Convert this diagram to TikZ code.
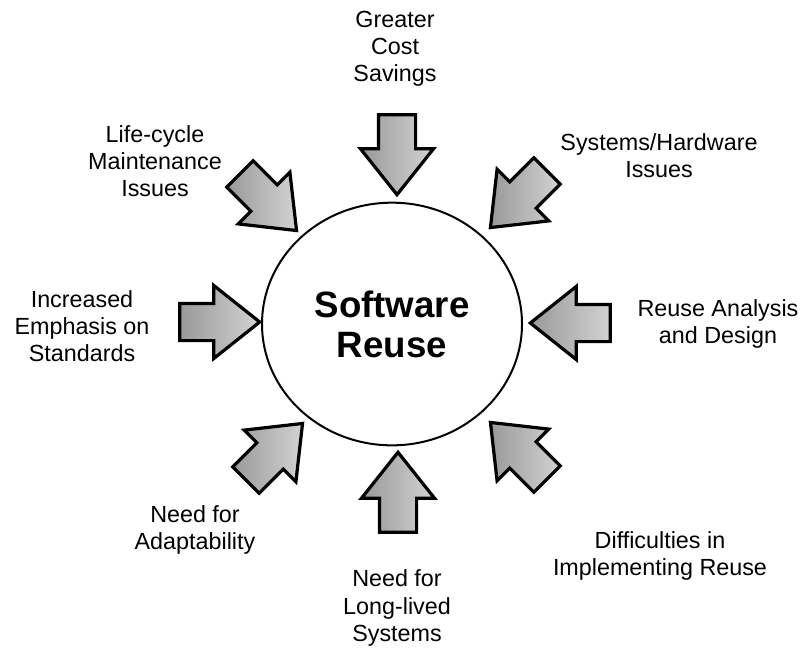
\documentclass[tikz,border=0pt]{standalone}
\usepackage{fontspec}
\setmainfont{Liberation Sans}
\usetikzlibrary{shapes.arrows, shapes.geometric}

\begin{document}
\begin{tikzpicture}[x=0.75pt, y=-0.75pt,
    fatarrow/.style={single arrow, draw=black, line width=2.4pt,
      left color=gray!80, right color=gray!35,
      minimum height=60pt, inner xsep=0pt, inner ysep=12.75pt,
      single arrow head extend=13.5pt, single arrow tip angle=77},
    lbl/.style={align=center, inner sep=0pt, font=\fontsize{17.5}{20.3}\selectfont}]
  \useasboundingbox (0,0) rectangle (804,647);
  % centre
  \node[ellipse, draw, line width=1.5pt, minimum width=195pt, minimum height=182pt,
        align=center, font=\bfseries\fontsize{27.5}{30}\selectfont] (reuse) at (392,324)
        {Software\\Reuse};
  % arrows pointing in
  \foreach \ang/\x/\y/\nm in {-90/397/143/cost, -45/260/194/life, -135/527/191/sys,
      0/208/322/std, 180/582/323/ana, 45/266/460/adapt, 90/398/504/long, 135/527/459/diff}
    \node[fatarrow, rotate=\ang] (a-\nm) at (\x,\y) {};
  % labels
  \node[lbl] (t-cost)  at (395,49)  {Greater\\Cost\\Savings};
  \node[lbl] (t-life)  at (155,161) {Life-cycle\\Maintenance\\Issues};
  \node[lbl] (t-sys)   at (659,156) {Systems/Hardware\\Issues};
  \node[lbl] (t-std)   at (82,326)  {Increased\\Emphasis on\\Standards};
  \node[lbl] (t-ana)   at (718,324) {Reuse Analysis\\and Design};
  \node[lbl] (t-adapt) at (195,530) {Need for\\Adaptability};
  \node[lbl] (t-long)  at (397,608) {Need for\\Long-lived\\Systems};
  \node[lbl] (t-diff)  at (660,556) {Difficulties in\\Implementing Reuse};
\end{tikzpicture}
\end{document}
